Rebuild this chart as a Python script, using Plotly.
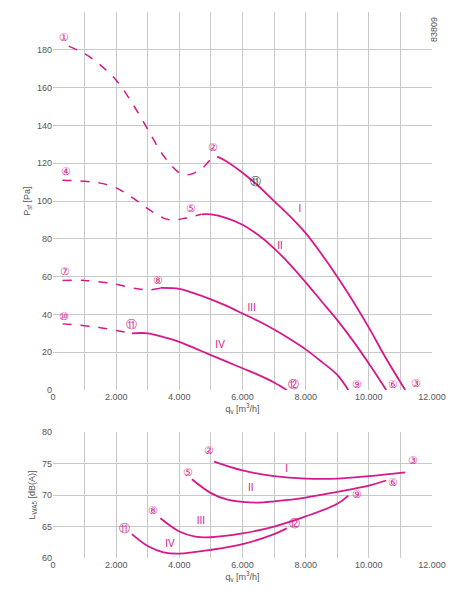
import plotly.graph_objects as go

C = "#d6198a"
# Pressure curves: dashed (unstable) and solid parts
I_dash_q = [500, 1000, 1500, 2000, 2500, 3000, 3500, 4000, 4300, 4700, 5000, 5200]
I_dash_p = [182, 178, 172, 164, 152, 138, 124, 115, 114, 117, 122, 123.5]
I_q = [5200, 5500, 6000, 6500, 7000, 7500, 8000, 8500, 9000, 9500, 10000, 10500, 11150]
I_p = [123.5, 121, 115, 108, 100, 92, 83, 72, 60, 47, 33, 18, 0]
II_dash_q = [300, 1000, 1500, 2000, 2500, 3000, 3500, 3800, 4200, 4700]
II_dash_p = [111, 110.5, 109.5, 107, 102, 96, 91, 90, 91, 93]
II_q = [4700, 5000, 5500, 6000, 6500, 7000, 7500, 8000, 8500, 9000, 9500, 10000, 10550]
II_p = [93, 93, 91, 87.5, 82, 75, 66.5, 57, 47, 37, 26, 14, 0]
III_dash_q = [300, 1000, 2000, 2500, 3000, 3400]
III_dash_p = [58, 58, 56, 54, 53, 53.8]
III_q = [3400, 4000, 4500, 5000, 5500, 6000, 6500, 7000, 7500, 8000, 8500, 9000, 9350]
III_p = [54, 53.5, 51, 48, 44.5, 40.5, 36.5, 32, 27, 21.5, 15, 8, 0]
IV_dash_q = [300, 1000, 1500, 2000, 2500]
IV_dash_p = [35, 34, 33, 31.5, 30]
IV_q = [2500, 3000, 3500, 4000, 4500, 5000, 5500, 6000, 6500, 7000, 7400]
IV_p = [30, 30, 28, 25.5, 22, 18.5, 15, 11.5, 8, 4, 0]

# Sound power
LI_q = [5100, 6000, 7000, 8000, 9000, 10000, 11150]
LI_v = [75.3, 73.9, 73.0, 72.6, 72.6, 73.0, 73.6]
LII_q = [4400, 5000, 5500, 6000, 6500, 7000, 8000, 9000, 10000, 10550]
LII_v = [72.5, 70.3, 69.3, 68.9, 68.8, 69.0, 69.6, 70.5, 71.5, 72.3]
LIII_q = [3400, 4000, 4500, 5000, 6000, 7000, 8000, 9000, 9350]
LIII_v = [66.3, 64.2, 63.4, 63.3, 63.9, 65.0, 66.6, 68.6, 69.9]
LIV_q = [2500, 3000, 3500, 4000, 5000, 6000, 7000, 7400]
LIV_v = [63.8, 61.9, 60.9, 60.7, 61.3, 62.2, 63.8, 64.7]

mk_top_q = [350, 5070, 11500, 400, 4370, 10760, 390, 3330, 9620, 350, 2480, 7610]
mk_top_p = [186, 127.7, 3, 115, 95.7, 2.6, 62.5, 57.8, 2.6, 38.4, 34.4, 2.6]
mk_top_t = ["①", "②", "③", "④", "⑤", "⑥", "⑦", "⑧", "⑨", "⑩", "⑪", "⑫"]
mk_bot_q = [4950, 11400, 4280, 10780, 3170, 9620, 2270, 7660]
mk_bot_v = [76.9, 75.3, 73.5, 71.9, 67.4, 69.9, 64.5, 65.3]
mk_bot_t = ["②", "③", "⑤", "⑥", "⑧", "⑨", "⑪", "⑫"]
rom = ["I", "II", "III", "IV"]
rom_top_q = [7820, 7190, 6290, 5290]
rom_top_p = [95.7, 75.8, 43, 23.8]
rom_bot_q = [7400, 6260, 4680, 3700]
rom_bot_v = [74.1, 71.1, 65.8, 62.2]

xt = [0, 2000, 4000, 6000, 8000, 10000, 12000]
xtl = ["0", "2.000", "4.000", "6.000", "8.000", "10.000", "12.000"]

fig = go.Figure()
for dq, dp, q, p in [(I_dash_q, I_dash_p, I_q, I_p), (II_dash_q, II_dash_p, II_q, II_p),
                     (III_dash_q, III_dash_p, III_q, III_p), (IV_dash_q, IV_dash_p, IV_q, IV_p)]:
    fig.add_trace(go.Scatter(x=dq, y=dp, mode="lines", line=dict(color=C, width=1.5, dash="dash", shape="spline"), xaxis="x", yaxis="y"))
    fig.add_trace(go.Scatter(x=q, y=p, mode="lines", line=dict(color=C, width=1.8, shape="spline"), xaxis="x", yaxis="y"))
for q, v in [(LI_q, LI_v), (LII_q, LII_v), (LIII_q, LIII_v), (LIV_q, LIV_v)]:
    fig.add_trace(go.Scatter(x=q, y=v, mode="lines", line=dict(color=C, width=1.8, shape="spline"), xaxis="x2", yaxis="y2"))
fig.add_trace(go.Scatter(x=mk_top_q, y=mk_top_p, mode="text", text=mk_top_t, textfont=dict(color=C, size=11), xaxis="x", yaxis="y"))
fig.add_trace(go.Scatter(x=[6400], y=[110], mode="text", text=["⑪"], textfont=dict(color="#333", size=11), xaxis="x", yaxis="y"))
fig.add_trace(go.Scatter(x=rom_top_q, y=rom_top_p, mode="text", text=rom, textfont=dict(color=C, size=10), xaxis="x", yaxis="y"))
fig.add_trace(go.Scatter(x=mk_bot_q, y=mk_bot_v, mode="text", text=mk_bot_t, textfont=dict(color=C, size=11), xaxis="x2", yaxis="y2"))
fig.add_trace(go.Scatter(x=rom_bot_q, y=rom_bot_v, mode="text", text=rom, textfont=dict(color=C, size=10), xaxis="x2", yaxis="y2"))

ax = dict(range=[0, 12000], tickvals=xt, ticktext=xtl, showgrid=True, gridcolor="#c8c8c8",
          minor=dict(dtick=1000, showgrid=True, gridcolor="#c8c8c8"), zeroline=False, automargin=False,
          showline=False, tickfont=dict(size=9, color="#555"), ticks="")
XD = [0.0991, 0.934]
fig.update_layout(
    width=454, height=595, margin=dict(l=0, r=0, t=0, b=0), showlegend=False,
    plot_bgcolor="white", paper_bgcolor="white", font=dict(family="Liberation Sans", color="#555"),
    xaxis=dict(ax, domain=XD, anchor="y",
               title=dict(text="q<sub>v</sub> [m<sup>3</sup>/h]", font=dict(size=9), standoff=2)),
    yaxis=dict(domain=[0.358, 0.993], range=[0, 200], dtick=20, showgrid=True, gridcolor="#c8c8c8",
               zeroline=False, tickfont=dict(size=9, color="#555"), anchor="x", automargin=False,
               title=dict(text="P<sub>sf</sub> [Pa]", font=dict(size=9), standoff=4)),
    xaxis2=dict(ax, domain=XD, anchor="y2",
                title=dict(text="q<sub>v</sub> [m<sup>3</sup>/h]", font=dict(size=9), standoff=2)),
    yaxis2=dict(domain=[0.0756, 0.2874], range=[60, 80], dtick=5, showgrid=True, gridcolor="#c8c8c8",
                zeroline=False, tickfont=dict(size=9, color="#555"), anchor="x2", automargin=False,
                title=dict(text="L<sub>WA5</sub> [dB(A)]", font=dict(size=9), standoff=4)),
    annotations=[dict(text="83809", x=0.937, y=0.988, xref="paper", yref="paper", textangle=-90,
                      showarrow=False, font=dict(size=9, color="#555"), xanchor="center", yanchor="top")],
)
fig.write_html("out.html")
